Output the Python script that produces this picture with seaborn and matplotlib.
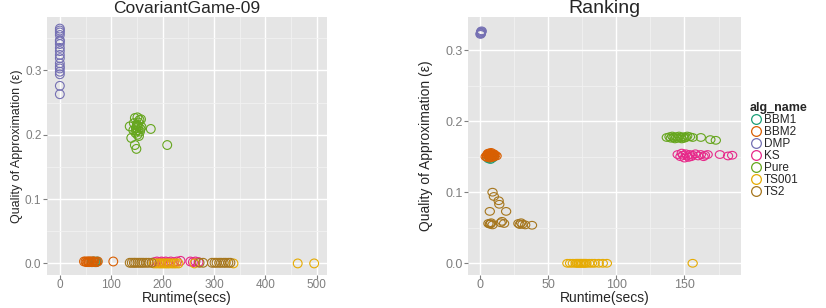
import pandas as pd
import matplotlib
matplotlib.use("Agg")
import matplotlib.pyplot as plt
import seaborn as sns
from matplotlib.lines import Line2D
from matplotlib.path import Path
from matplotlib.transforms import Affine2D
from matplotlib.ticker import MultipleLocator, FormatStrFormatter

sns.set_style("darkgrid", {"axes.facecolor": "#E5E5E5"})
plt.rcParams["font.family"] = ["Liberation Sans", "DejaVu Sans"]

alg_names = ["BBM1", "BBM2", "DMP", "KS", "Pure", "TS001", "TS2"]
alg_colors = ["#1B9E77", "#D95F02", "#7570B3", "#E7298A", "#66A61E", "#E6AB02", "#A6761D"]

# ---- CovariantGame-09 ----
cg_bbm1_x = [62, 65, 68, 70, 72]
cg_bbm1_y = [0.002, 0.003, 0.002, 0.002, 0.003]
cg_bbm2_x = [47, 50, 52, 54, 56, 57, 59, 61, 63, 65, 67, 71, 74, 104]
cg_bbm2_y = [0.003, 0.003, 0.002, 0.003, 0.003, 0.002, 0.003, 0.003, 0.002, 0.003, 0.003, 0.002, 0.003, 0.003]
cg_dmp_x = [0, 0, 0, 0, 0, 0, 0, 0, 0, 0, 0, 0, 0, 0, 0, 0, 0, 0]
cg_dmp_y = [0.365, 0.362, 0.359, 0.355, 0.347, 0.345, 0.341, 0.335, 0.330,
            0.324, 0.319, 0.311, 0.306, 0.303, 0.298, 0.294, 0.276, 0.263]
cg_ks_x = [184, 189, 194, 198, 202, 206, 211, 216, 222, 228, 235, 254, 259, 264, 270]
cg_ks_y = [0.002, 0.003, 0.002, 0.003, 0.002, 0.003, 0.002, 0.003, 0.002, 0.003, 0.004, 0.003, 0.002, 0.003, 0.002]
cg_pure_x = [136, 139, 146, 149, 177, 209, 146, 151, 155, 158, 144, 150, 153, 148,
             152, 156, 147, 151, 154, 159, 149, 153, 157, 143, 150]
cg_pure_y = [0.213, 0.195, 0.184, 0.178, 0.209, 0.184, 0.226, 0.227, 0.223, 0.224,
             0.218, 0.216, 0.213, 0.210, 0.207, 0.205, 0.203, 0.200, 0.198, 0.212,
             0.206, 0.219, 0.209, 0.207, 0.214]
cg_ts001_x = [183, 188, 193, 197, 201, 205, 209, 213, 218, 222, 226, 231, 262, 338, 463, 495]
cg_ts001_y = [0.0, 0.0, 0.0, 0.0, 0.0, 0.0, 0.0, 0.0, 0.0, 0.0, 0.0, 0.0, 0.0, 0.0, 0.0, 0.0]
cg_ts2_x = [136, 140, 144, 147, 151, 155, 159, 163, 168, 173, 179, 272, 279,
            296, 301, 305, 310, 314, 319, 323, 328, 332]
cg_ts2_y = [0.001, 0.001, 0.001, 0.001, 0.001, 0.001, 0.001, 0.001, 0.001, 0.001, 0.001,
            0.001, 0.001, 0.001, 0.001, 0.001, 0.001, 0.001, 0.001, 0.001, 0.001, 0.001]

# ---- Ranking ----
rk_bbm1_x = [6, 7, 8, 9, 10, 7.5, 8.5]
rk_bbm1_y = [0.147, 0.149, 0.151, 0.148, 0.150, 0.146, 0.152]
rk_bbm2_x = [4, 5, 5.5, 6, 6.5, 7, 7.5, 8, 8.5, 9, 9.5, 10, 11, 12, 5, 6, 7, 8, 9, 10]
rk_bbm2_y = [0.150, 0.152, 0.154, 0.151, 0.153, 0.155, 0.150, 0.152, 0.154, 0.151,
             0.153, 0.150, 0.152, 0.151, 0.149, 0.155, 0.148, 0.156, 0.149, 0.154]
rk_dmp_x = [0.2, 0.5, 0.8, 1.0, 0.4, 0.6]
rk_dmp_y = [0.322, 0.324, 0.326, 0.327, 0.323, 0.325]
rk_ks_x = [145, 147, 148, 149, 150, 151, 152, 153, 154, 155, 156, 158, 160, 162,
           164, 165, 167, 176, 182, 185]
rk_ks_y = [0.153, 0.150, 0.155, 0.152, 0.148, 0.154, 0.151, 0.149, 0.153, 0.150,
           0.152, 0.154, 0.151, 0.153, 0.150, 0.152, 0.153, 0.153, 0.151, 0.152]
rk_pure_x = [137, 139, 140, 141, 142, 143, 144, 145, 146, 147, 148, 149, 150, 151,
             152, 154, 156, 162, 169, 173]
rk_pure_y = [0.177, 0.178, 0.176, 0.179, 0.177, 0.175, 0.178, 0.176, 0.179, 0.177,
             0.175, 0.178, 0.176, 0.177, 0.179, 0.178, 0.177, 0.177, 0.174, 0.173]
rk_ts001_x = [64, 66, 68, 70, 71, 72, 73, 74, 75, 76, 77, 78, 80, 82, 84, 87, 90, 93, 156]
rk_ts001_y = [0.0, 0.0, 0.0, 0.0, 0.0, 0.0, 0.0, 0.0, 0.0, 0.0, 0.0, 0.0, 0.0, 0.0, 0.0, 0.0, 0.0, 0.0, 0.0]
rk_ts2_x = [9, 10, 13.5, 14, 7, 19, 6, 7, 8, 9, 7.5, 16, 17.5, 15, 28, 30, 31, 33, 29, 38]
rk_ts2_y = [0.100, 0.094, 0.088, 0.083, 0.073, 0.073, 0.056, 0.055, 0.057, 0.054,
            0.0555, 0.059, 0.056, 0.057, 0.056, 0.057, 0.055, 0.054, 0.0545, 0.0535]


def build_frame(parts):
    rows = []
    for name, xs, ys in parts:
        for x, y in zip(xs, ys):
            rows.append({"alg_name": name, "runtime": x, "quality": y})
    return pd.DataFrame(rows)


cg_df = build_frame([
    ("BBM1", cg_bbm1_x, cg_bbm1_y), ("BBM2", cg_bbm2_x, cg_bbm2_y),
    ("DMP", cg_dmp_x, cg_dmp_y), ("KS", cg_ks_x, cg_ks_y),
    ("Pure", cg_pure_x, cg_pure_y), ("TS001", cg_ts001_x, cg_ts001_y),
    ("TS2", cg_ts2_x, cg_ts2_y)])
rk_df = build_frame([
    ("BBM1", rk_bbm1_x, rk_bbm1_y), ("BBM2", rk_bbm2_x, rk_bbm2_y),
    ("DMP", rk_dmp_x, rk_dmp_y), ("KS", rk_ks_x, rk_ks_y),
    ("Pure", rk_pure_x, rk_pure_y), ("TS001", rk_ts001_x, rk_ts001_y),
    ("TS2", rk_ts2_x, rk_ts2_y)])

palette = dict(zip(alg_names, alg_colors))
ellipse = Path.unit_circle().transformed(Affine2D().scale(1.2, 1.0))


def draw_panel(ax, df, title, xstep, xlim, ylim, marker, size, fs, ypad):
    sns.scatterplot(data=df, x="runtime", y="quality", hue="alg_name",
                    hue_order=alg_names, palette=palette, marker=marker,
                    s=size, linewidth=0.8, legend=False, ax=ax)
    coll = ax.collections[0]
    coll.set_edgecolors(coll.get_facecolors())
    coll.set_facecolors("none")

    ax.set_xlim(*xlim)
    ax.set_ylim(*ylim)
    ax.xaxis.set_major_locator(MultipleLocator(xstep))
    ax.xaxis.set_minor_locator(MultipleLocator(xstep / 2))
    ax.yaxis.set_major_locator(MultipleLocator(0.1))
    ax.yaxis.set_minor_locator(MultipleLocator(0.05))
    ax.yaxis.set_major_formatter(FormatStrFormatter("%.1f"))
    ax.grid(which="major", color="white", linewidth=1.0)
    ax.grid(which="minor", color="#F2F2F2", linewidth=0.6)
    ax.set_axisbelow(True)
    for s in ax.spines.values():
        s.set_visible(False)
    ax.tick_params(which="major", bottom=True, left=True, length=3, width=0.8,
                   color="#7F7F7F", labelcolor="#7F7F7F", labelsize=fs["tick"], pad=1)
    ax.tick_params(axis="x", which="major", pad=0)
    ax.tick_params(which="minor", bottom=False, left=False)

    ax.set_title(title, fontsize=fs["title"], pad=3)
    ax.set_xlabel("Runtime(secs)", fontsize=fs["xlabel"], labelpad=0)
    ax.set_ylabel("Quality of Approximation (\u03b5)", fontsize=fs["ylabel"], labelpad=ypad)


fig = plt.figure(figsize=(8.26, 3.08), dpi=100)
ax1 = fig.add_axes([47 / 826, 1 - 275 / 308, 280 / 826, 258 / 308])
ax2 = fig.add_axes([468 / 826, 1 - 275 / 308, 273 / 826, 258 / 308])

draw_panel(ax1, cg_df, "CovariantGame-09", 100, (-25, 520), (-0.018, 0.383), "o", 40,
           {"tick": 8.5, "title": 12.5, "xlabel": 10, "ylabel": 9}, 1.5)
draw_panel(ax2, rk_df, "Ranking", 50, (-9, 191.5), (-0.0165, 0.3465), ellipse, 44,
           {"tick": 9, "title": 14, "xlabel": 10, "ylabel": 10}, 9)

handles = [Line2D([], [], marker="o", linestyle="", markerfacecolor="none",
                  markeredgecolor=c, markersize=7, markeredgewidth=0.9)
           for c in alg_colors]
fig.legend(handles, alg_names, title="alg_name", loc="upper left",
           bbox_to_anchor=(750 / 826, 1 - 102 / 308), frameon=False, fontsize=8.5,
           title_fontproperties={"weight": "bold", "size": 9}, alignment="left",
           handletextpad=0.2, labelspacing=0.0, borderpad=0, borderaxespad=0,
           handlelength=1.0)

fig.savefig("out.png", dpi=100)
